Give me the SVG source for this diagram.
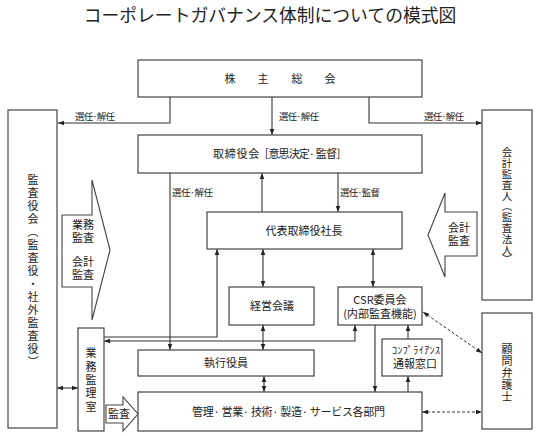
<svg xmlns="http://www.w3.org/2000/svg" width="537" height="436" viewBox="0 0 537 436">
<defs>
<style>
text{font-family:"Noto Sans CJK JP","Noto Sans CJK SC",sans-serif;fill:#222;}
.box{fill:#fff;stroke:#444;stroke-width:1.2;}
.ln{fill:none;stroke:#333;stroke-width:1.1;}
.dash{fill:none;stroke:#333;stroke-width:1;stroke-dasharray:3,2;}
.blk{fill:#fff;stroke:#444;stroke-width:1.1;}
.t11{font-size:11px;}
.lbl{font-size:9.5px;}
.vt{font-size:11px;text-anchor:middle;}
</style>
<marker id="ah" viewBox="0 0 8 8" refX="8" refY="4" markerWidth="6" markerHeight="6" orient="auto-start-reverse" markerUnits="userSpaceOnUse">
<path d="M0,1 L8,4 L0,7 z" fill="#222"/>
</marker>
</defs>
<rect width="537" height="436" fill="#fff"/>
<text x="270" y="22" font-size="17.8" text-anchor="middle">コーポレートガバナンス体制についての模式図</text>

<g id="connectors">
<path class="ln" d="M170,97 V123 H58" marker-end="url(#ah)"/>
<path class="ln" d="M272,97 V135" marker-end="url(#ah)"/>
<path class="ln" d="M369,97 V123 H482" marker-end="url(#ah)"/>
<path class="ln" d="M170,173 V350" marker-end="url(#ah)"/>
<path class="ln" d="M262,212 V173" marker-end="url(#ah)"/>
<path class="ln" d="M338,173 V212" marker-end="url(#ah)"/>
<path class="ln" d="M263,249 V287" marker-start="url(#ah)" marker-end="url(#ah)"/>
<path class="ln" d="M373,249 V287" marker-start="url(#ah)" marker-end="url(#ah)"/>
<path class="ln" d="M104,337 H217 V249" marker-end="url(#ah)"/>
<path class="ln" d="M355,325 V341 H104" marker-start="url(#ah)" marker-end="url(#ah)"/>
<path class="ln" d="M263,325 V350" marker-start="url(#ah)" marker-end="url(#ah)"/>
<path class="ln" d="M264,376 V392" marker-start="url(#ah)" marker-end="url(#ah)"/>
<path class="ln" d="M375,325 V392" marker-end="url(#ah)"/>
<path class="ln" d="M408,339 V325" marker-end="url(#ah)"/>
<path class="ln" d="M408,392 V376" marker-end="url(#ah)"/>
<path class="dash" d="M423,312 L482,353" marker-start="url(#ah)" marker-end="url(#ah)"/>
<path class="dash" d="M422,412 H482" marker-start="url(#ah)" marker-end="url(#ah)"/>
<path class="ln" d="M57,388 H78" marker-start="url(#ah)" marker-end="url(#ah)"/>
<text class="lbl" x="75" y="120" textLength="40">選任·解任</text>
<text class="lbl" x="279" y="120" textLength="40">選任·解任</text>
<text class="lbl" x="424" y="120" textLength="40">選任·解任</text>
<text class="lbl" x="172" y="196" textLength="41">選任·解任</text>
<text class="lbl" x="340" y="196" textLength="40">選任·監督</text>
</g>

<g id="shareholders">
<rect class="box" x="138" y="60" width="284" height="37"/>
<text class="t11" y="83" text-anchor="middle"><tspan x="230">株</tspan><tspan x="263">主</tspan><tspan x="297">総</tspan><tspan x="330">会</tspan></text>
</g>

<g id="auditors">
<rect class="box" x="8" y="110" width="49" height="318"/>
<text class="vt"><tspan x="33" y="184">監</tspan><tspan x="33" y="197">査</tspan><tspan x="33" y="210">役</tspan><tspan x="33" y="223">会</tspan><tspan x="33" y="236">︵</tspan><tspan x="33" y="249">監</tspan><tspan x="33" y="262">査</tspan><tspan x="33" y="275">役</tspan><tspan x="33" y="288">・</tspan><tspan x="33" y="301">社</tspan><tspan x="33" y="314">外</tspan><tspan x="33" y="327">監</tspan><tspan x="33" y="340">査</tspan><tspan x="33" y="353">役</tspan><tspan x="33" y="366">︶</tspan></text>
</g>

<g id="accounting-auditor">
<rect class="box" x="482" y="110" width="50" height="190"/>
<text class="vt" style="font-size:10.5px"><tspan x="507" y="156">会</tspan><tspan x="507" y="167">計</tspan><tspan x="507" y="178">監</tspan><tspan x="507" y="189">査</tspan><tspan x="507" y="200">人</tspan><tspan x="507" y="210">︵</tspan><tspan x="507" y="221">監</tspan><tspan x="507" y="232">査</tspan><tspan x="507" y="243">法</tspan><tspan x="507" y="254">人</tspan><tspan x="507" y="263">︶</tspan></text>
</g>

<g id="lawyer">
<rect class="box" x="482" y="313" width="50" height="116"/>
<text class="vt"><tspan x="507" y="353">顧</tspan><tspan x="507" y="365">問</tspan><tspan x="507" y="377">弁</tspan><tspan x="507" y="389">護</tspan><tspan x="507" y="401">士</tspan></text>
</g>

<g id="board">
<rect class="box" x="138" y="135" width="284" height="38"/>
<text class="t11" x="213" y="158" textLength="134">取 締 役 会［意思決定· 監督］</text>
</g>

<g id="president">
<rect class="box" x="207" y="212" width="195" height="37"/>
<text class="t11" x="304" y="235" text-anchor="middle">代表取締役社長</text>
</g>

<g id="management-meeting">
<rect class="box" x="229" y="287" width="85" height="38"/>
<text class="t11" x="272" y="310" text-anchor="middle">経営会議</text>
</g>

<g id="csr">
<rect class="box" x="338" y="287" width="84" height="38"/>
<text class="t11" x="380" y="304" text-anchor="middle">CSR委員会</text>
<text class="t11" x="380" y="318" text-anchor="middle">(内部監査機能)</text>
</g>

<g id="internal-audit">
<rect class="box" x="78" y="328" width="26" height="103"/>
<text class="vt"><tspan x="91" y="357">業</tspan><tspan x="91" y="371">務</tspan><tspan x="91" y="384">監</tspan><tspan x="91" y="397">理</tspan><tspan x="91" y="411">室</tspan></text>
</g>

<g id="officers">
<rect class="box" x="138" y="350" width="176" height="26"/>
<text class="t11" x="226" y="367" text-anchor="middle">執行役員</text>
</g>

<g id="compliance">
<rect class="box" x="382" y="339" width="60" height="37"/>
<text x="416" y="354" font-size="10" text-anchor="middle" textLength="48">ｺﾝﾌﾟﾗｲｱﾝｽ</text>
<text class="t11" x="415" y="368" text-anchor="middle">通報窓口</text>
</g>

<g id="departments">
<rect class="box" x="138" y="392" width="284" height="39"/>
<text class="t11" x="192" y="416" textLength="193">管理· 営業· 技術· 製造· サービス各部門</text>
</g>

<g id="audit-arrow-left">
<polygon class="blk" points="62,215 92,215 92,180 110,250 92,320 92,287 62,287"/>
<text class="t11"><tspan x="72" y="229">業務</tspan><tspan x="72" y="242">監査</tspan><tspan x="72" y="266">会計</tspan><tspan x="72" y="279">監査</tspan></text>
</g>

<g id="audit-arrow-right">
<polygon class="blk" points="477,212 445,212 445,193 428,235 445,277 445,256 477,256"/>
<text class="t11"><tspan x="448" y="232">会計</tspan><tspan x="448" y="245">監査</tspan></text>
</g>

<g id="audit-arrow-bottom">
<polygon class="blk" points="106,405 123,405 123,397 138,414 123,431 123,423 106,423"/>
<text class="t11" x="108" y="418">監査</text>
</g>
</svg>
